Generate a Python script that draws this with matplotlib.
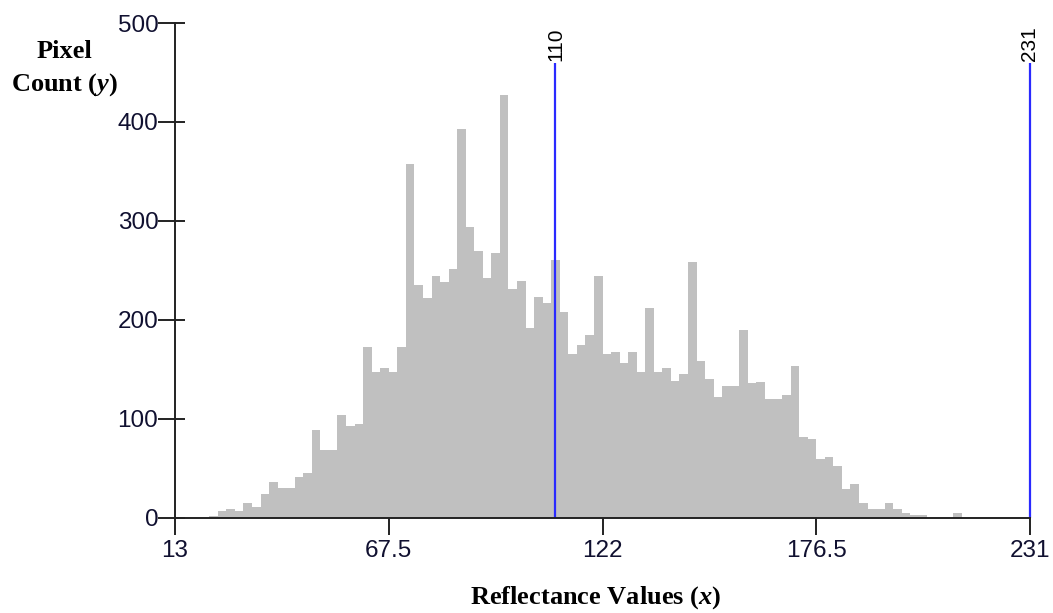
import numpy as np
import matplotlib
matplotlib.use("Agg")
import matplotlib.pyplot as plt

plt.rcParams['font.family'] = ['Liberation Sans', 'DejaVu Sans']
plt.rcParams['mathtext.fontset'] = 'custom'
plt.rcParams['mathtext.it'] = 'Liberation Serif:bold:italic'
plt.rcParams['mathtext.rm'] = 'Liberation Serif:bold'

# ---- data ----
x_min, x_max = 13, 231
counts = [1, 0, 0, 0, 2, 6.5, 9, 6.5, 15, 11,
          24, 36, 30, 30, 41, 45, 88, 68, 68, 104,
          93, 95, 172, 147, 151, 147, 172, 357, 235, 222,
          244, 238, 251, 393, 294, 269, 242, 267, 427, 231,
          239, 192, 223, 217, 260, 208, 165, 174, 185, 244,
          165, 167, 156, 167, 147, 212, 147, 151, 138, 145,
          258, 158, 140, 122, 133, 133, 190, 136, 137, 120,
          120, 124, 153, 81, 79, 59, 61, 52, 29, 34,
          15, 9, 9, 15, 9, 5, 2.5, 2.5, 0, 0,
          0, 5, 0, 0, 0, 0, 0, 0, 0, 0]
markers = [110, 231]
marker_top = 460
xtick_vals = [13, 67.5, 122, 176.5, 231]
xtick_labels = ["13", "67.5", "122", "176.5", "231"]
ytick_vals = [0, 100, 200, 300, 400, 500]

fig = plt.figure(figsize=(10.53, 6.13), dpi=100)
ax = fig.add_axes([175/1053, 1-517.5/613, (1030-175)/1053, (517.5-23)/613])

edges = np.linspace(x_min, x_max, len(counts) + 1)
width = edges[1] - edges[0]
ax.bar(edges[:-1], counts, width=width, align='edge', color='#c0c0c0',
       linewidth=0, zorder=1)

for m in markers:
    ax.plot([m, m], [0, marker_top], color='#2a2aff', lw=1.6, zorder=3,
            solid_capstyle='butt', clip_on=False)
    ax.text(m, marker_top + 2, str(m), rotation=90, ha='center', va='bottom',
            fontsize=15, color='black')

ax.set_xlim(x_min, x_max)
ax.set_ylim(0, 500)
ax.set_xticks(xtick_vals)
ax.set_xticklabels(xtick_labels)
ax.set_yticks(ytick_vals)
ax.set_yticks(ytick_vals, minor=True)
ax.yaxis.remove_overlapping_locs = False
for s in ['top', 'right']:
    ax.spines[s].set_visible(False)
for s in ['left', 'bottom']:
    ax.spines[s].set_linewidth(1.4)
    ax.spines[s].set_color('#222222')
    ax.spines[s].set_zorder(4)
ax.tick_params(axis='x', direction='out', length=12, width=1.4, pad=4,
               labelsize=17.5, colors='#222222', labelcolor='#101030')
ax.tick_params(axis='y', which='major', direction='out', length=12, width=1.4,
               pad=0, labelsize=17.5, colors='#222222', labelcolor='#101030')
ax.tick_params(axis='y', which='minor', direction='in', length=7, width=1.4,
               colors='#222222')
ax.set_facecolor('white')

fig.text(64/1053, 1-52/613, "Pixel", ha='center', va='center',
         fontsize=19, fontweight='bold', family='Liberation Serif')
fig.text(65/1053, 1-85/613, r"Count ($\mathit{y}$)", ha='center', va='center',
         fontsize=19, fontweight='bold', family='Liberation Serif')
fig.text(596/1053, 1-598/613, r"Reflectance Values ($\mathit{x}$)", ha='center',
         va='center', fontsize=19, fontweight='bold', family='Liberation Serif')

fig.savefig("out.png", dpi=100, facecolor='white')
